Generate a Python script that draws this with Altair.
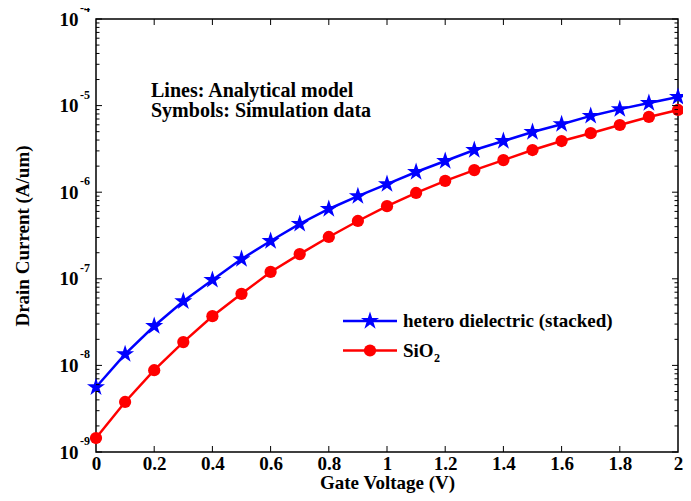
import altair as alt
import pandas as pd

FONT = "Liberation Serif"
FS = 19

vg = [0.0, 0.1, 0.2, 0.3, 0.4, 0.5, 0.6, 0.7, 0.8, 0.9, 1.0,
      1.1, 1.2, 1.3, 1.4, 1.5, 1.6, 1.7, 1.8, 1.9, 2.0]
hetero = [5.6e-9, 1.35e-8, 2.85e-8, 5.5e-8, 9.7e-8, 1.69e-7, 2.73e-7, 4.3e-7,
          6.4e-7, 9.0e-7, 1.24e-6, 1.71e-6, 2.29e-6, 3.07e-6, 3.9e-6, 4.95e-6,
          6.1e-6, 7.6e-6, 9.1e-6, 1.07e-5, 1.26e-5]
sio2 = [1.45e-9, 3.78e-9, 8.8e-9, 1.86e-8, 3.7e-8, 6.7e-8, 1.2e-7, 1.93e-7,
        3.04e-7, 4.65e-7, 6.9e-7, 9.8e-7, 1.35e-6, 1.8e-6, 2.35e-6, 3.07e-6,
        3.9e-6, 4.8e-6, 5.97e-6, 7.4e-6, 8.9e-6]
series_names = ["hetero dielectric (stacked)", "SiO"]
colors = ["#0000ff", "#ff0000"]
x_ticks = [0, 0.2, 0.4, 0.6, 0.8, 1, 1.2, 1.4, 1.6, 1.8, 2]
y_decades = [1e-9, 1e-8, 1e-7, 1e-6, 1e-5, 1e-4]
y_exps = ["-9", "-8", "-7", "-6", "-5", "-4"]
y_minor = [k * d for d in y_decades[:-1] for k in range(2, 10)]
notes = ["Lines: Analytical model", "Symbols: Simulation data"]

STAR = ("M0,-1L0.2245,-0.309L0.9511,-0.309L0.3633,0.118L0.5878,0.809L0,0.382"
        "L-0.5878,0.809L-0.3633,0.118L-0.9511,-0.309L-0.2245,-0.309Z")
STAR_SIZE = 360
CIRC_SIZE = 150

W, H = 582, 433

X = alt.X("vg:Q", scale=alt.Scale(domain=[0, 2], nice=False, zero=False),
          axis=alt.Axis(values=x_ticks, format="~g", ticks=False, domain=False, grid=False,
                        labelFont=FONT, labelFontSize=FS, labelFontWeight="bold",
                        labelColor="black", labelPadding=2, labelFlush=False,
                        labelOverlap=False,
                        title="Gate Voltage (V)", titleFont=FONT, titleFontSize=FS,
                        titleFontWeight="bold", titleColor="black",
                        titleY=21, titleBaseline="top"))
Y = alt.Y("id:Q", scale=alt.Scale(type="log", domain=[1e-9, 1e-4], nice=False),
          axis=alt.Axis(values=y_decades, labelExpr="'10'", ticks=False, domain=False,
                        grid=False, labelFont=FONT, labelFontSize=FS,
                        labelFontWeight="bold", labelColor="black", labelPadding=18,
                        labelOverlap=False, labelFlush=False,
                        title="Drain Current (A/um)", titleFont=FONT, titleFontSize=FS,
                        titleFontWeight="bold", titleColor="black",
                        titleX=-74, titleY=H / 2, titleAngle=270,
                        titleBaseline="middle", titleAlign="center"))

df_h = pd.DataFrame({"vg": vg, "id": hetero})
df_s = pd.DataFrame({"vg": vg, "id": sio2})
df_dec = pd.DataFrame({"id": y_decades, "exp": y_exps})
df_min = pd.DataFrame({"id": y_minor})
df_xt = pd.DataFrame({"vg": x_ticks[1:-1]})
one = pd.DataFrame({"a": [0]})

layers = []
# data
layers.append(alt.Chart(df_h).mark_line(color=colors[0], strokeWidth=2.5).encode(x=X, y=Y))
layers.append(alt.Chart(df_h).mark_point(shape=STAR, filled=True, opacity=1,
                                         size=STAR_SIZE, color=colors[0]).encode(x=X, y=Y))
layers.append(alt.Chart(df_s).mark_line(color=colors[1], strokeWidth=2.5).encode(x=X, y=Y))
layers.append(alt.Chart(df_s).mark_point(shape="circle", filled=True, opacity=1,
                                         size=CIRC_SIZE, color=colors[1]).encode(x=X, y=Y))

# ticks (inward)
for x0, x1 in [(0, 6), (W, W - 6)]:
    layers.append(alt.Chart(df_dec).mark_rule(color="black", strokeWidth=1).encode(
        y=Y, x=alt.value(x0), x2=alt.value(x1)))
for x0, x1 in [(0, 3.5), (W, W - 3.5)]:
    layers.append(alt.Chart(df_min).mark_rule(color="black", strokeWidth=1).encode(
        y=Y, x=alt.value(x0), x2=alt.value(x1)))
for y0, y1 in [(H, H - 6), (0, 6)]:
    layers.append(alt.Chart(df_xt).mark_rule(color="black", strokeWidth=1).encode(
        x=X, y=alt.value(y0), y2=alt.value(y1)))

# exponents of y labels
layers.append(alt.Chart(df_dec).mark_text(
    align="left", baseline="middle", dy=-11, font=FONT, fontSize=12,
    fontWeight="bold", color="black").encode(y=Y, x=alt.value(-16), text="exp:N"))

# annotation
for i, t in enumerate(notes):
    layers.append(alt.Chart(one).mark_text(
        text=t, align="left", baseline="alphabetic", font=FONT, fontSize=20,
        fontWeight="bold", color="black").encode(x=alt.value(55), y=alt.value(78 + 20 * i)))

# legend
leg_y = [302, 331.5]
leg_shapes = [STAR, "circle"]
leg_sizes = [STAR_SIZE, CIRC_SIZE]
for i in range(2):
    layers.append(alt.Chart(one).mark_rule(color=colors[i], strokeWidth=2.5).encode(
        x=alt.value(247), x2=alt.value(301), y=alt.value(leg_y[i])))
    layers.append(alt.Chart(one).mark_point(shape=leg_shapes[i], filled=True, opacity=1,
                                            size=leg_sizes[i], color=colors[i]).encode(
        x=alt.value(274), y=alt.value(leg_y[i])))
    layers.append(alt.Chart(one).mark_text(
        text=series_names[i], align="left", baseline="middle", font=FONT, fontSize=FS,
        fontWeight="bold", color="black").encode(x=alt.value(307), y=alt.value(leg_y[i])))
layers.append(alt.Chart(one).mark_text(
    text="2", align="left", baseline="middle", font=FONT, fontSize=12,
    fontWeight="bold", color="black").encode(x=alt.value(338), y=alt.value(leg_y[1] + 7)))

chart = alt.layer(*layers).properties(
    width=W, height=H,
    autosize=alt.AutoSizeParams(type="none"),
    padding={"left": 88, "top": 11, "right": 5, "bottom": 41},
    background="white",
).configure_view(stroke="black", strokeWidth=1.5)

chart.save("out.html", embed_options={"renderer": "svg", "actions": False})
